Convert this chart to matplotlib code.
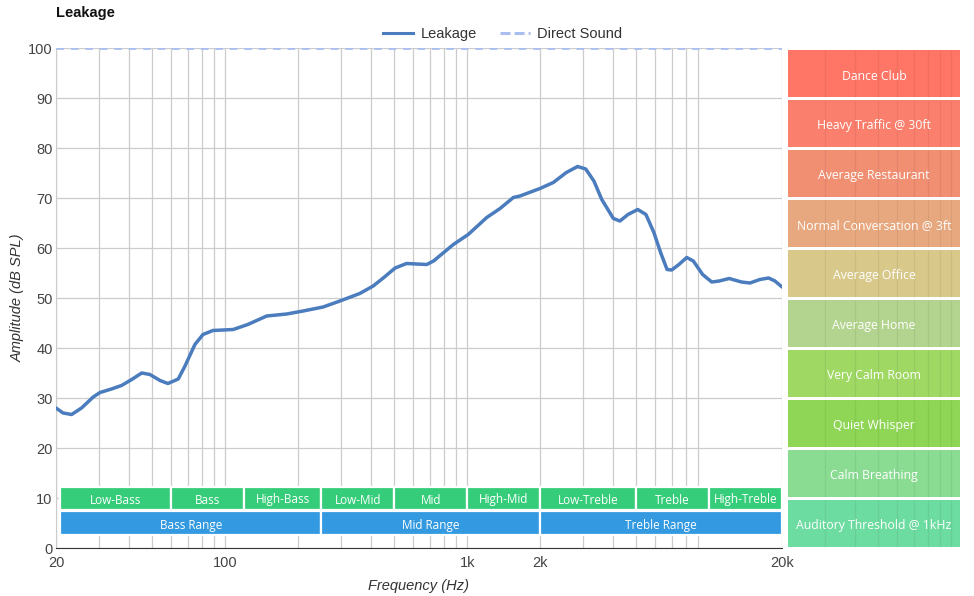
import numpy as np
import matplotlib
matplotlib.use("Agg")
import matplotlib.pyplot as plt
from matplotlib.patches import Rectangle
from matplotlib.lines import Line2D

# leakage curve (Hz, dB SPL)
freq = [20, 21.4, 23.2, 25.5, 28.5, 30.4, 33.9, 37.3, 41.1, 45.2, 48.9, 53.8,
        58, 64, 68.1, 75, 81, 89, 108, 124, 148.5, 179.6, 210, 254, 298, 360,
        409, 450, 504, 562, 681, 726, 877, 1010, 1205, 1368, 1552, 1653, 2000,
        2270, 2570, 2860, 3090, 3340, 3600, 4020, 4280, 4620, 5070, 5480, 5910,
        6300, 6700, 7000, 7500, 8080, 8600, 9400, 10250, 11000, 12100, 13600,
        14750, 16200, 17600, 18700, 20000]
leak = [28.0, 27.0, 26.7, 28.0, 30.2, 31.1, 31.8, 32.5, 33.7, 35.0, 34.7, 33.5,
        32.9, 33.8, 36.3, 40.7, 42.7, 43.5, 43.7, 44.7, 46.4, 46.8, 47.4, 48.2,
        49.4, 50.9, 52.4, 54.0, 56.0, 56.9, 56.7, 57.4, 60.7, 62.7, 66.1, 67.9,
        70.1, 70.4, 71.9, 73.1, 75.1, 76.3, 75.8, 73.4, 69.7, 65.9, 65.4, 66.7,
        67.7, 66.7, 63.1, 59.1, 55.7, 55.6, 56.7, 58.1, 57.4, 54.7, 53.2, 53.4,
        53.9, 53.2, 53.0, 53.7, 54.0, 53.4, 52.2]
direct_level = 100

# frequency bands
bands = ["Low-Bass", "Bass", "High-Bass", "Low-Mid", "Mid", "High-Mid",
         "Low-Treble", "Treble", "High-Treble"]
band_edges = [20, 60, 120, 250, 500, 1000, 2000, 5000, 10000, 20000]
ranges = ["Bass Range", "Mid Range", "Treble Range"]
range_edges = [20, 250, 2000, 20000]

# reference noise levels, top to bottom
levels = ["Dance Club", "Heavy Traffic @ 30ft", "Average Restaurant",
          "Normal Conversation @ 3ft", "Average Office", "Average Home",
          "Very Calm Room", "Quiet Whisper", "Calm Breathing",
          "Auditory Threshold @ 1kHz"]
level_colors = ["#ff7566", "#fb7f6d", "#f08f72", "#e8a87f", "#d8c88a",
                "#b2d48e", "#9fd863", "#8fd656", "#8adc93", "#6ddca0"]

W, H = 974, 596
fig = plt.figure(figsize=(W / 100, H / 100), dpi=100)
ax = fig.add_axes([56 / W, 48 / H, 726 / W, 500 / H])

ax.set_xscale("log")
ax.set_xlim(20, 20000)
ax.set_ylim(0, 100)
ax.grid(True, which="both", color="#cccccc", lw=0.9)
ax.set_axisbelow(True)
for s in ["top", "right"]:
    ax.spines[s].set_visible(False)
ax.spines["left"].set_color("#cccccc")
ax.spines["bottom"].set_color("#333333")
ax.set_xticks([20, 100, 1000, 2000, 20000])
ax.set_xticklabels(["20", "100", "1k", "2k", "20k"])
ax.xaxis.set_minor_formatter(matplotlib.ticker.NullFormatter())
ax.set_yticks(range(0, 101, 10))
ax.tick_params(which="both", length=0, labelsize=10.5, colors="#444444")
ax.tick_params(axis="x", pad=6)
ax.tick_params(axis="y", pad=2.4)
for lab in ax.get_xticklabels() + ax.get_yticklabels():
    lab.set_family("Liberation Sans")

# band boxes
font_box = "Open Sans"
start = 20 * 10 ** (4 / 242)   # small gap after the y axis
for i, name in enumerate(bands):
    x0, x1 = band_edges[i], band_edges[i + 1]
    left = start if i == 0 else x0
    ax.add_patch(Rectangle((left, 7.7), x1 - left, 4.6,
                           facecolor="#35cd79", edgecolor="white", lw=1.6, zorder=3))
    ax.text(np.sqrt(left * x1), 9.6, name, ha="center", va="center", color="white",
            fontsize=8.5, family=font_box, zorder=4)
for i, name in enumerate(ranges):
    x0, x1 = range_edges[i], range_edges[i + 1]
    left = start if i == 0 else x0
    ax.add_patch(Rectangle((left, 2.6), x1 - left, 4.8,
                           facecolor="#3399e0", edgecolor="white", lw=1.6, zorder=3))
    ax.text(np.sqrt(left * x1), 4.6, name, ha="center", va="center", color="white",
            fontsize=8.5, family=font_box, zorder=4)

ax.axhline(direct_level, color="#aabff0", lw=2, ls=(0, (2.7, 2.5)), zorder=5)
ax.plot(freq, leak, color="#4a7cbe", lw=2.5, zorder=6,
        solid_capstyle="round", solid_joinstyle="round")

ax.set_xlabel("Frequency (Hz)", fontsize=10.5, style="italic", color="#333333",
              family="Liberation Sans", labelpad=6)
ax.set_ylabel("Amplitude (dB SPL)", fontsize=10.5, style="italic", color="#333333",
              family="Liberation Sans")
ax.yaxis.set_label_coords(-(56 - 25) / 726, 0.5)

# right panel of reference levels
ax2 = fig.add_axes([782 / W, 48 / H, 180 / W, 500 / H])
x_end = 20000 * 10 ** (180 / 242)
ax2.set_xscale("log")
ax2.set_xlim(20000, x_end)
ax2.set_ylim(0, 100)
ax2.axis("off")
bx0 = 20000 * 10 ** (6 / 242)
bx1 = 20000 * 10 ** (178 / 242)
grid_f = [30000, 40000, 50000, 60000, 70000, 80000, 90000, 100000]
for i, name in enumerate(levels):
    top = 100 - 10 * i
    y0, y1 = top - 9.7, top - 0.3
    ax2.add_patch(Rectangle((bx0, y0), bx1 - bx0, y1 - y0,
                            facecolor=level_colors[i], edgecolor="none"))
    ax2.vlines(grid_f, y0, y1, color="#000000", alpha=0.06, lw=0.9)
    ax2.text(np.sqrt(bx0 * bx1), (y0 + y1) / 2 - 0.6, name, ha="center", va="center",
             color="white", fontsize=8.8, family=font_box)

fig.text(56 / W, 1 - 13 / H, "Leakage", fontsize=10.5, fontweight="bold",
         family="Liberation Sans", va="center", ha="left", color="#111111")

handles = [Line2D([], [], color="#4a7cbe", lw=2.2),
           Line2D([], [], color="#aabff0", lw=2.2, ls=(0, (3.3, 1.3)))]
fig.legend(handles, ["Leakage", "Direct Sound"], loc="center",
           bbox_to_anchor=(503 / W, 1 - 34 / H), ncol=2, frameon=False,
           prop={"family": "Liberation Sans", "size": 10.5}, handlelength=2.05,
           columnspacing=1.6, handletextpad=0.5, labelcolor="#333333")

fig.savefig("out.png", dpi=100)
